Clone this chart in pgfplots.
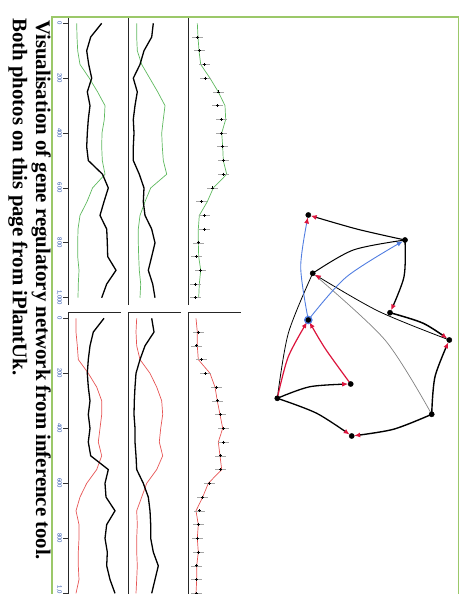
\documentclass[border=0pt]{standalone}
\usepackage{pgfplots}
\usepackage{pgfplotstable}
\pgfplotsset{compat=1.18}
\usepackage{fontspec}
\setmainfont{Liberation Serif}
\newfontfamily\ticksf{Liberation Sans}
\usetikzlibrary{arrows.meta}
\definecolor{framegreen}{RGB}{155,200,105}
\definecolor{lgreen}{RGB}{95,185,95}
\definecolor{lred}{RGB}{230,85,85}
\definecolor{arrred}{RGB}{220,20,60}
\definecolor{eblue}{RGB}{80,125,225}
\definecolor{tickblue}{RGB}{40,80,170}
% columns: t = time, b = black series, c = coloured series (pixel-like expression units)
\pgfplotstableread{
t b c
0 101.7 76.7
50 90.7 77
100 86.7 77.7
150 88.7 80
200 91.7 89.3
250 87.3 97.6
300 90 105
350 88.3 104.3
400 87.3 102
450 86.7 101.7
500 88.3 102.3
550 102.5 105
600 108.3 92.5
650 104 87
700 100 80
750 106.7 78
800 107.3 77.7
850 107.7 77.7
900 116 79
950 106.7 78.3
1000 101.7 78
}\topA
\pgfplotstableread{
t b c
0 153.3 136.7
50 151.7 136.7
100 144 137.3
150 140 141.7
200 133.3 149.7
250 137.3 157.7
300 135 165
350 133.3 163.3
400 134 161.7
450 133.3 162.3
500 133.3 163.3
550 139.3 166.7
600 144 150.7
650 143.3 145
700 145 140
750 151.7 138.3
800 155 138.3
850 151.7 138.7
900 148.3 139.3
950 152.7 140.7
1000 155 140
}\topB
% c = fitted line, e = measured point, err = horizontal error
\pgfplotstableread{
t c e err
0 197.3 nan 5.5
50 198 197.3 5.5
100 199 199 5.5
150 200.7 204 5.5
200 210 205 5.5
250 218.3 218.3 5.5
300 225 217.7 5.5
350 225.7 221.7 5.5
400 221.7 221.7 5.5
450 222.7 222.3 5.5
500 223.3 223.3 5.5
550 226.7 223.3 5.5
600 213.3 212.7 5.5
650 207.3 201 5.5
700 199.3 204 5.5
750 198.3 204 5.5
800 198.3 198.3 5.5
850 198.7 196.7 5.5
900 200.7 200.7 5.5
950 199.3 195.7 5.5
1000 198.7 195.7 5.5
}\topC
\pgfplotstableread{
t b c
0 104 76
50 93.3 76
100 90 77.3
150 88.3 78.3
200 87.3 88.3
250 88.3 96.7
300 90 101.7
350 88.3 101.7
400 90 100
450 88.3 98.3
500 90.7 101.7
550 108.3 96.7
600 105 86.7
650 106 80
700 115 76
750 106.7 79
800 105 79
850 107.3 78.3
900 106.7 78.3
950 110 79
1000 115 76
}\botA
\pgfplotstableread{
t b c
0 151.7 136.7
50 154 136
100 145 136.7
150 140 140
200 136 150
250 135 156.7
300 134.3 161.7
350 134 162.7
400 135 160.7
450 135 159.3
500 136 162.7
550 136.7 156.7
600 143.3 146.7
650 148.3 141.7
700 150 136.7
750 150.7 137.3
800 150.7 136.7
850 153.3 136.7
900 158.3 137.3
950 155 136.7
1000 151.7 136
}\botB
\pgfplotstableread{
t c e err
0 196 nan 5.5
50 197.3 198.3 5.5
100 197.3 196.7 5.5
150 198.3 201.7 5.5
200 210 205 5.5
250 215 216 5.5
300 217.3 217.3 5.5
350 220 220 5.5
400 222.7 223.3 5.5
450 218.3 223.3 5.5
500 220 220.7 5.5
550 221.7 220.7 5.5
600 208.3 209.3 5.5
650 202.7 202.7 5.5
700 196 199 5.5
750 198.3 198.3 5.5
800 197.3 197.3 5.5
850 198.3 198.3 5.5
900 196.7 196.7 5.5
950 196.7 196.7 5.5
1000 196 196.7 5.5
}\botC
\pgfplotsset{
  panel/.style={scale only axis, width=53pt, y dir=reverse, ymin=-20, ymax=1025,
    axis line style={draw=none}, xtick=\empty, ytick=\empty, clip=false},
  toppanel/.style={panel, height=286.8pt},
  botpanel/.style={panel, height=287.4pt},
  ticked/.style={ytick={0,200,400,600,800,1000}, yticklabels={0,200,400,600,800,{1,000}},
    ytick pos=left, tick align=outside, major tick length=5pt,
    tick style={black!80,line width=0.7pt},
    yticklabel style={rotate=-90, anchor=north, font=\ticksf\fontsize{6}{7}\selectfont, text=tickblue, inner sep=1pt}},
  blk/.style={black, line width=1.3pt},
  grn/.style={lgreen, line width=0.7pt},
  rd/.style={lred, line width=0.7pt},
  xbars/.style={only marks, mark=+, mark size=1.5pt, black, mark options={line width=0.7pt},
    error bars/.cd, x dir=both, x explicit, error bar style={gray!70, line width=0.6pt}, error mark=none},
}
\tikzset{ar/.style={-{Latex[length=6pt,width=5pt,color=arrred]}, shorten >=2.5pt}}
\begin{document}
\begin{tikzpicture}
\useasboundingbox (0,0) rectangle (464pt,594pt);
\clip (0,0) rectangle (464pt,594pt);
% ---------- top row ----------
\begin{axis}[toppanel, ticked, at={(68pt,576.2pt)}, anchor=north west, xmin=68, xmax=121]
\draw[black!85, line width=0.9pt] (axis cs:68,1025) -- (axis cs:68,-20) -- (axis cs:121,-20);
\addplot[grn] table[x=c, y=t] {\topA};
\addplot[blk] table[x=b, y=t] {\topA};
\end{axis}
\begin{axis}[toppanel, at={(128pt,576.2pt)}, anchor=north west, xmin=128, xmax=181]
\draw[black!85, line width=0.9pt] (axis cs:128,1025) -- (axis cs:128,-20) -- (axis cs:181,-20);
\addplot[grn] table[x=c, y=t] {\topB};
\addplot[blk] table[x=b, y=t] {\topB};
\end{axis}
\begin{axis}[toppanel, at={(188pt,576.2pt)}, anchor=north west, xmin=188, xmax=241]
\draw[black!85, line width=0.9pt] (axis cs:188,1025) -- (axis cs:188,-20) -- (axis cs:241,-20);
\addplot[grn] table[x=c, y=t] {\topC};
\addplot[xbars] table[x=e, y=t, x error=err] {\topC};
\end{axis}
% ---------- bottom row ----------
\begin{axis}[botpanel, ticked, at={(68pt,281.2pt)}, anchor=north west, xmin=68, xmax=121]
\draw[black!85, line width=0.9pt] (axis cs:68,1025) -- (axis cs:68,-20) -- (axis cs:121,-20);
\addplot[rd] table[x=c, y=t] {\botA};
\addplot[blk] table[x=b, y=t] {\botA};
\end{axis}
\begin{axis}[botpanel, at={(128pt,281.2pt)}, anchor=north west, xmin=128, xmax=181]
\draw[black!85, line width=0.9pt] (axis cs:128,1025) -- (axis cs:128,-20) -- (axis cs:181,-20);
\addplot[rd] table[x=c, y=t] {\botB};
\addplot[blk] table[x=b, y=t] {\botB};
\end{axis}
\begin{axis}[botpanel, at={(188pt,281.2pt)}, anchor=north west, xmin=188, xmax=241]
\draw[black!85, line width=0.9pt] (axis cs:188,1025) -- (axis cs:188,-20) -- (axis cs:241,-20);
\addplot[rd] table[x=c, y=t] {\botC};
\addplot[xbars] table[x=e, y=t, x error=err] {\botC};
\end{axis}
% ---------- network ----------
\begin{axis}[at={(0pt,0pt)}, anchor=south west, scale only axis, width=464pt, height=594pt,
  xmin=0, xmax=464, ymin=0, ymax=594, y dir=reverse, hide axis, clip=false]
\addplot[black, line width=1.1pt, smooth, ar] coordinates {(405,240)(356.7,229)(308.3,215)};
\addplot[black, line width=1.3pt, smooth, ar] coordinates {(405,240)(404,276.7)(390,312.7)};
\addplot[black, line width=1.0pt, smooth] coordinates {(312.7,273.3)(353.3,250)(405,240)};
\addplot[gray, line width=0.7pt, smooth] coordinates {(312.7,273.3)(385,340)(431.7,414.3)};
\addplot[black, line width=0.8pt, smooth, ar] coordinates {(449.3,340)(378,311)(312.7,273.3)};
\addplot[black, line width=0.8pt, smooth] coordinates {(277.3,398.3)(288.3,333.3)(312.7,273.3)};
\addplot[eblue, line width=0.9pt, smooth, ar] coordinates {(308.3,320)(300.7,266.7)(308.3,215)};
\addplot[eblue, line width=0.9pt, smooth, -{Latex[length=6pt,width=5pt]}, shorten >=2.5pt] coordinates {(308.3,320)(346.7,276.7)(405,240)};
\addplot[black, line width=1.5pt, smooth, ar] coordinates {(390,312.7)(423.3,323.3)(449.3,340)};
\addplot[arrred, line width=1.2pt, smooth, ar] coordinates {(277.3,398.3)(288.3,356.7)(308.3,320)};
\addplot[arrred, line width=1.2pt, smooth, ar] coordinates {(350.7,384)(325,348.3)(308.3,320)};
\addplot[black, line width=1.3pt, smooth, ar] coordinates {(277.3,398.3)(310,386.7)(350.7,384)};
\addplot[black, line width=1.3pt, smooth, ar] coordinates {(277.3,398.3)(316.7,413.3)(351.7,436)};
\addplot[black, line width=1.4pt, smooth, ar] coordinates {(431.7,414.3)(393.3,429.3)(351.7,436)};
\addplot[black, line width=1.4pt, smooth, ar] coordinates {(431.7,414.3)(435,376.7)(449.3,340)};
\addplot[only marks, mark=*, mark size=2.6pt, black] coordinates {(308.3,215)(405,240)(312.7,273.3)(390,312.7)(449.3,340)(350.7,384)(277.3,398.3)(431.7,414.3)(351.7,436)};
\addplot[only marks, mark=*, mark size=3.6pt, mark options={draw=eblue, fill=black, line width=1.3pt}] coordinates {(308.3,320)};
\end{axis}
% ---------- frame and caption ----------
\draw[framegreen, line width=1.5pt] (52pt,-5pt) -- (52pt,577pt) -- (458.5pt,577pt) -- (458.5pt,-5pt);
\node[rotate=-90, anchor=base west, inner sep=0pt, font=\bfseries\fontsize{20.8}{24}\selectfont] at (36.2pt,574pt) {Visualisation of gene regulatory network from inference tool.};
\node[rotate=-90, anchor=base west, inner sep=0pt, font=\bfseries\fontsize{20.8}{24}\selectfont] at (13pt,576pt) {Both photos on this page from iPlantUk.};
\end{tikzpicture}
\end{document}
